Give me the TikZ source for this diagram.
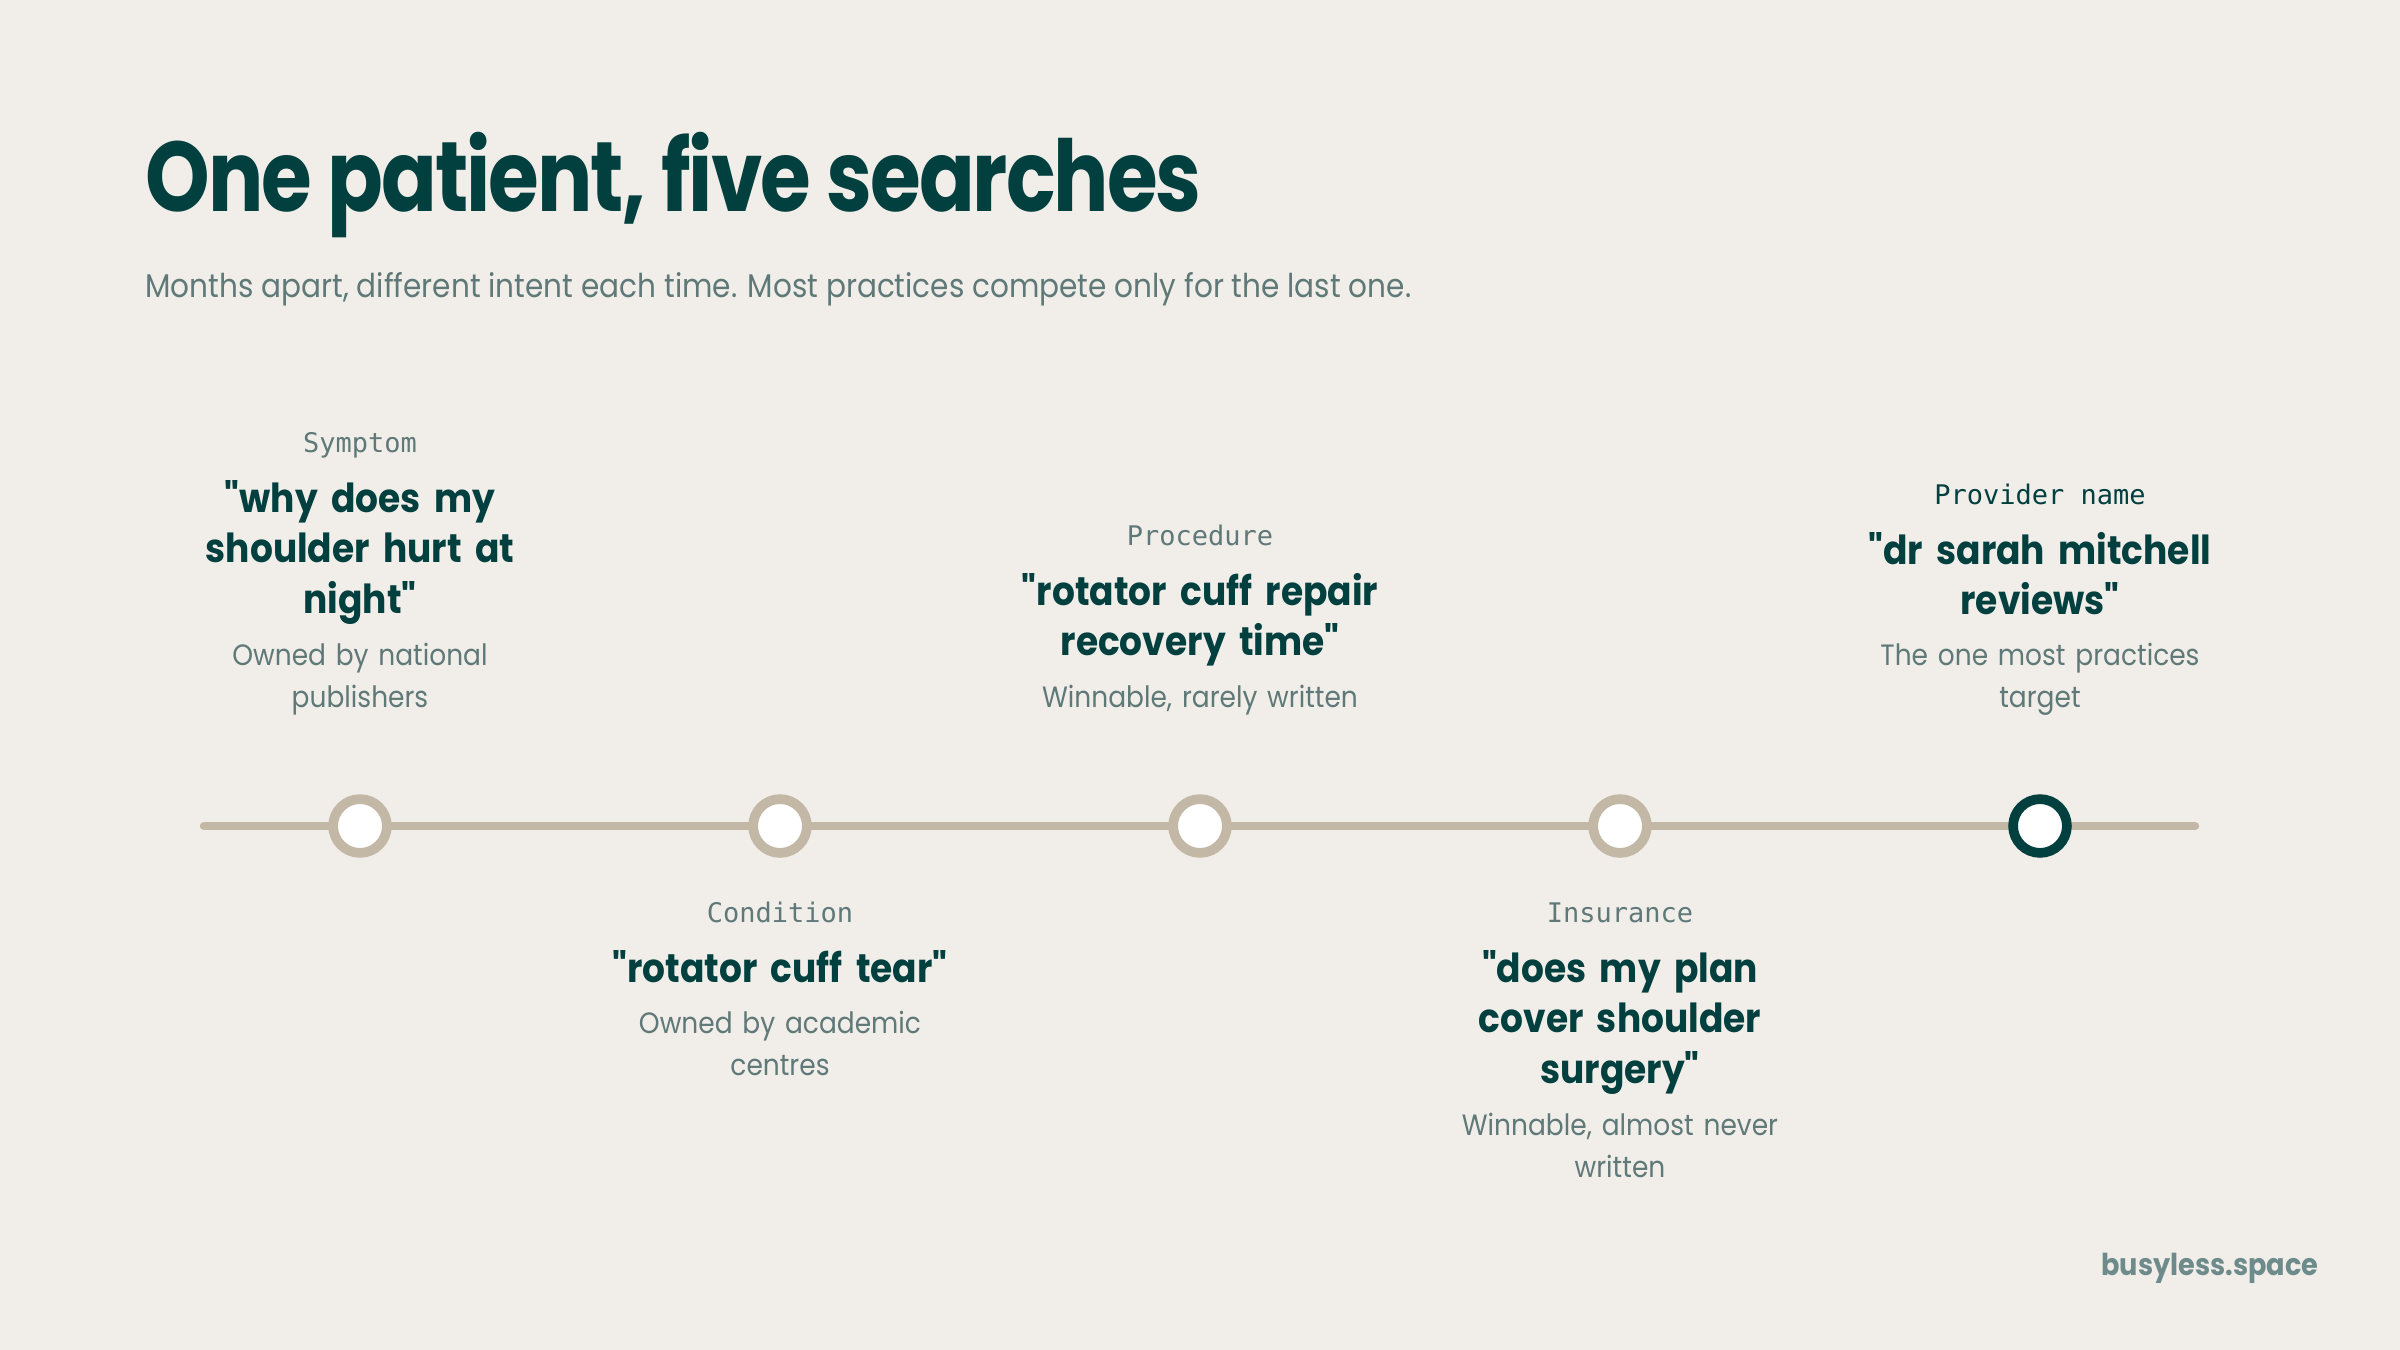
\documentclass[tikz,border=0pt]{standalone}
\usepackage{fontspec}
\setmainfont{Poppins}[FakeStretch=0.9,Ligatures=TeXOff]
\newfontfamily\titlefont{Poppins}[FakeStretch=0.83,LetterSpace=-2]
\setmonofont{DejaVu Sans Mono}

\definecolor{paper}{HTML}{F1EEE9}
\definecolor{ink}{HTML}{023F3F}
\definecolor{slate}{HTML}{5F7878}
\definecolor{sand}{HTML}{C2B8A5}
\definecolor{mute}{HTML}{6E8B8B}

\tikzset{
	tag/.style={inner sep=0, anchor=base, text=slate, font=\ttfamily\fontsize{13.5}{16}\selectfont},
	query/.style={inner sep=0, anchor=base, text width=260pt, align=center, text=ink, font=\bfseries\fontsize{20}{25.25}\selectfont},
	note/.style={inner sep=0, anchor=base, text width=260pt, align=center, text=slate, font=\fontsize{14.7}{21}\selectfont},
	milestone/.style={circle, draw=sand, fill=white, line width=4.85pt, minimum size=26.9pt, inner sep=0},
	final/.style={milestone, draw=ink}
}

\begin{document}
\begin{tikzpicture}[x=0.5pt, y=-0.5pt]
		% фон
		\fill [paper] ( 0, 0 ) rectangle ( 2400, 1350 );
		\useasboundingbox ( 0, 0 ) rectangle ( 2400, 1350 );

		% заголовок
		\node [inner sep=0, anchor=base west, text=ink, font=\titlefont\bfseries\fontsize{49.5}{56}\selectfont] (title) at ( 145, 211 ) {One patient, five searches};
		\node [inner sep=0, anchor=base west, text=slate, font=\fontsize{16.4}{20}\selectfont] (subtitle) at ( 145, 297 ) {Months apart, different intent each time. Most practices compete only for the last one.};

		% шкала
		\coordinate (tl) at ( 204, 826 );
		\coordinate (tr) at ( 2195, 826 );
		\draw [sand, line width=4.2pt, line cap=round] (tl) -- (tr);
		\node [milestone] (m1) at ( 360, 826 ) {};
		\node [milestone] (m2) at ( 780, 826 ) {};
		\node [milestone] (m3) at ( 1200, 826 ) {};
		\node [milestone] (m4) at ( 1620, 826 ) {};
		\node [final] (m5) at ( 2040, 826 ) {};

		% поиск 1
		\node [tag] (tag1) at ( 360, 452 ) {Symptom};
		\node [query] (query1) at ( 360, 512 ) {"why does my\\shoulder hurt at\\night"};
		\node [note] (note1) at ( 360, 665 ) {Owned by national\\publishers};

		% поиск 2
		\node [tag] (tag2) at ( 780, 922 ) {Condition};
		\node [query] (query2) at ( 780, 982 ) {"rotator cuff tear"};
		\node [note] (note2) at ( 780, 1033 ) {Owned by academic\\centres};

		% поиск 3
		\node [tag] (tag3) at ( 1200, 545 ) {Procedure};
		\node [query] (query3) at ( 1200, 605 ) {"rotator cuff repair\\recovery time"};
		\node [note] (note3) at ( 1200, 707 ) {Winnable, rarely written};

		% поиск 4
		\node [tag] (tag4) at ( 1620, 922 ) {Insurance};
		\node [query] (query4) at ( 1620, 982 ) {"does my plan\\cover shoulder\\surgery"};
		\node [note] (note4) at ( 1620, 1135 ) {Winnable, almost never\\written};

		% поиск 5
		\node [tag, text=ink] (tag5) at ( 2040, 504 ) {Provider name};
		\node [query] (query5) at ( 2040, 564 ) {"dr sarah mitchell\\reviews"};
		\node [note] (note5) at ( 2040, 665 ) {The one most practices\\target};

		% подпись
		\node [inner sep=0, anchor=base east, text=mute, font=\bfseries\fontsize{15.1}{20}\selectfont] (brand) at ( 2319, 1275 ) {busyless.space};
	\end{tikzpicture}
\end{document}
